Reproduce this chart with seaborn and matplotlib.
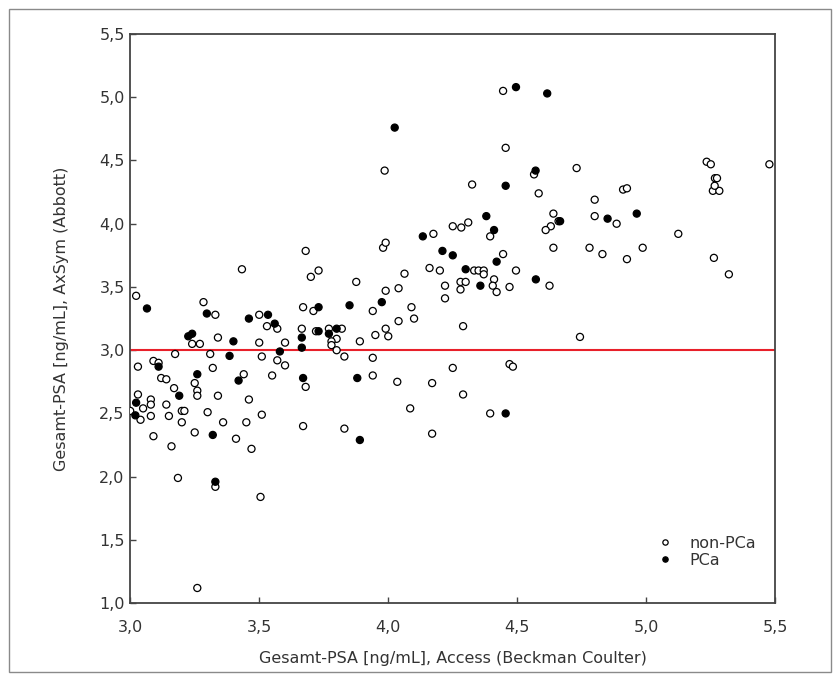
import numpy as np
import pandas as pd
import matplotlib
matplotlib.use("Agg")
import matplotlib.pyplot as plt
import seaborn as sns
from matplotlib.ticker import FuncFormatter
from matplotlib.patches import Rectangle

# non-PCa (open circles)
non_pca_x = [3.023, 3.284, 3.33, 3.50, 3.53, 3.57, 3.24, 3.27, 3.34, 3.50, 3.60, 3.174, 3.31,
             3.09, 3.11, 3.03, 3.51, 3.57, 3.60, 3.32, 3.25, 3.12, 3.14, 3.44, 3.55, 3.17,
             3.26, 3.26, 3.34, 3.03, 3.08, 3.08, 3.00, 3.04, 3.05, 3.14, 3.08, 3.15, 3.20,
             3.21, 3.20, 3.30, 3.46, 3.36, 3.45, 3.51, 3.25, 3.41, 3.09, 3.16, 3.47, 3.185,
             3.33, 3.505, 3.26,
             4.175, 3.68, 3.98, 3.99, 3.73, 3.70, 3.876, 4.063, 4.16, 4.20, 4.333, 4.35,
             4.37, 4.37, 4.28, 4.30, 4.28, 4.22, 4.22, 3.99, 4.04, 3.94, 4.09, 4.10, 4.04,
             3.99, 4.00, 3.95, 3.67, 3.71, 3.665, 3.72, 3.77, 3.82, 3.80, 3.78, 3.78, 3.80,
             3.83, 3.89, 3.94, 4.29, 4.25, 3.68, 3.94, 4.035, 4.17, 4.29, 4.085, 3.67, 3.83,
             4.17,
             4.445, 4.455, 4.565, 4.73, 4.325, 4.583, 4.80, 4.91, 4.925, 4.31, 4.395, 4.64,
             4.66, 4.63, 4.61, 4.80, 4.885, 4.64, 4.445, 4.78, 4.83, 4.925, 4.495, 4.41,
             4.405, 4.42, 4.47, 4.625, 4.743, 4.47, 4.483, 4.395,
             5.234, 5.25, 5.477, 5.266, 5.274, 5.258, 5.283, 5.265, 5.124, 4.986, 5.262, 5.32,
             3.986, 4.25, 4.283, 3.433]
non_pca_y = [3.43, 3.38, 3.28, 3.28, 3.19, 3.17, 3.05, 3.05, 3.10, 3.06, 3.06, 2.97, 2.97,
             2.915, 2.90, 2.87, 2.95, 2.92, 2.88, 2.86, 2.74, 2.78, 2.77, 2.81, 2.80, 2.70,
             2.68, 2.64, 2.64, 2.65, 2.61, 2.57, 2.52, 2.45, 2.54, 2.57, 2.48, 2.48, 2.52,
             2.52, 2.43, 2.51, 2.61, 2.43, 2.43, 2.49, 2.35, 2.30, 2.32, 2.24, 2.22, 1.99,
             1.92, 1.84, 1.12,
             3.92, 3.785, 3.81, 3.85, 3.63, 3.58, 3.54, 3.605, 3.65, 3.63, 3.63, 3.63,
             3.63, 3.60, 3.54, 3.54, 3.48, 3.51, 3.41, 3.47, 3.49, 3.31, 3.34, 3.25, 3.23,
             3.17, 3.11, 3.12, 3.34, 3.31, 3.17, 3.15, 3.17, 3.17, 3.09, 3.07, 3.04, 3.00,
             2.95, 3.07, 2.94, 3.19, 2.86, 2.71, 2.80, 2.75, 2.74, 2.65, 2.54, 2.40, 2.38,
             2.34,
             5.05, 4.60, 4.39, 4.44, 4.31, 4.24, 4.19, 4.27, 4.28, 4.01, 3.90, 4.08,
             4.02, 3.98, 3.95, 4.06, 4.00, 3.81, 3.76, 3.81, 3.76, 3.72, 3.63, 3.56,
             3.51, 3.46, 3.50, 3.51, 3.105, 2.89, 2.87, 2.50,
             4.49, 4.47, 4.47, 4.36, 4.36, 4.26, 4.26, 4.30, 3.92, 3.81, 3.73, 3.60,
             4.42, 3.98, 3.97, 3.64]

# PCa (filled circles)
pca_x = [3.065, 3.297, 3.46, 3.534, 3.56, 3.225, 3.24, 3.40, 3.58, 3.385, 3.11, 3.26, 3.42,
         3.19, 3.023, 3.02, 3.32, 3.33,
         4.134, 4.21, 4.25, 4.30, 3.975, 3.85, 3.73, 3.665, 3.665, 3.73, 3.77, 3.80, 3.67,
         3.88, 3.89,
         4.495, 4.616, 4.571, 4.455, 4.38, 4.41, 4.666, 4.85, 4.42, 4.572, 4.357, 4.455,
         4.963, 4.025]
pca_y = [3.33, 3.29, 3.25, 3.28, 3.21, 3.11, 3.13, 3.07, 2.99, 2.955, 2.87, 2.81, 2.76,
         2.64, 2.585, 2.485, 2.33, 1.96,
         3.90, 3.785, 3.75, 3.64, 3.38, 3.355, 3.34, 3.10, 3.02, 3.15, 3.13, 3.17, 2.78,
         2.78, 2.29,
         5.08, 5.03, 4.42, 4.30, 4.06, 3.95, 4.02, 4.04, 3.70, 3.56, 3.51, 2.50,
         4.08, 4.76]

cutoff = 3.0
ticks = [3.0, 3.5, 4.0, 4.5, 5.0, 5.5]
yticks = [1.0, 1.5, 2.0, 2.5, 3.0, 3.5, 4.0, 4.5, 5.0, 5.5]

df = pd.DataFrame({
    "access": non_pca_x + pca_x,
    "axsym": non_pca_y + pca_y,
    "group": ["non-PCa"] * len(non_pca_x) + ["PCa"] * len(pca_x),
})

sns.set_style("ticks")
plt.rcParams["font.family"] = ["DejaVu Sans"]
plt.rcParams["text.color"] = "#333333"

fig = plt.figure(figsize=(8.4, 6.8), dpi=100)
ax = fig.add_axes([0.155, 0.113, 0.768, 0.837])

ax.axhline(cutoff, color="#e8202a", lw=1.5, zorder=1)
sns.scatterplot(data=df, x="access", y="axsym", hue="group",
                palette={"non-PCa": "white", "PCa": "black"},
                edgecolor="black", linewidth=0.9, s=26, ax=ax, zorder=3)

ax.set_xlim(3.0, 5.5)
ax.set_ylim(1.0, 5.5)
ax.set_xticks(ticks)
ax.set_yticks(yticks)
comma = FuncFormatter(lambda v, p: f"{v:.1f}".replace(".", ","))
ax.xaxis.set_major_formatter(comma)
ax.yaxis.set_major_formatter(comma)
ax.tick_params(direction="in", length=4, width=1, colors="#444444",
               labelcolor="#333333", labelsize=11.5)
ax.tick_params(axis="x", pad=12)
ax.tick_params(axis="y", pad=4)
for sp in ax.spines.values():
    sp.set_color("#444444")
    sp.set_linewidth(1.3)

ax.set_xlabel("Gesamt-PSA [ng/mL], Access (Beckman Coulter)", fontsize=11.5,
              color="#333333", labelpad=12)
ax.set_ylabel("Gesamt-PSA [ng/mL], AxSym (Abbott)", fontsize=11.5,
              color="#333333", labelpad=22)

handles, labels = ax.get_legend_handles_labels()
leg = ax.legend(handles, labels, loc="lower right", bbox_to_anchor=(0.985, 0.045),
                frameon=False, fontsize=11.5, handletextpad=0.5, labelspacing=0.15,
                markerscale=0.75, borderaxespad=0.2)

fig.patches.append(Rectangle((0.011, 0.012), 0.978, 0.975, transform=fig.transFigure,
                             fill=False, edgecolor="#8a8a8a", lw=1.0))

fig.savefig("out.png", dpi=100)
